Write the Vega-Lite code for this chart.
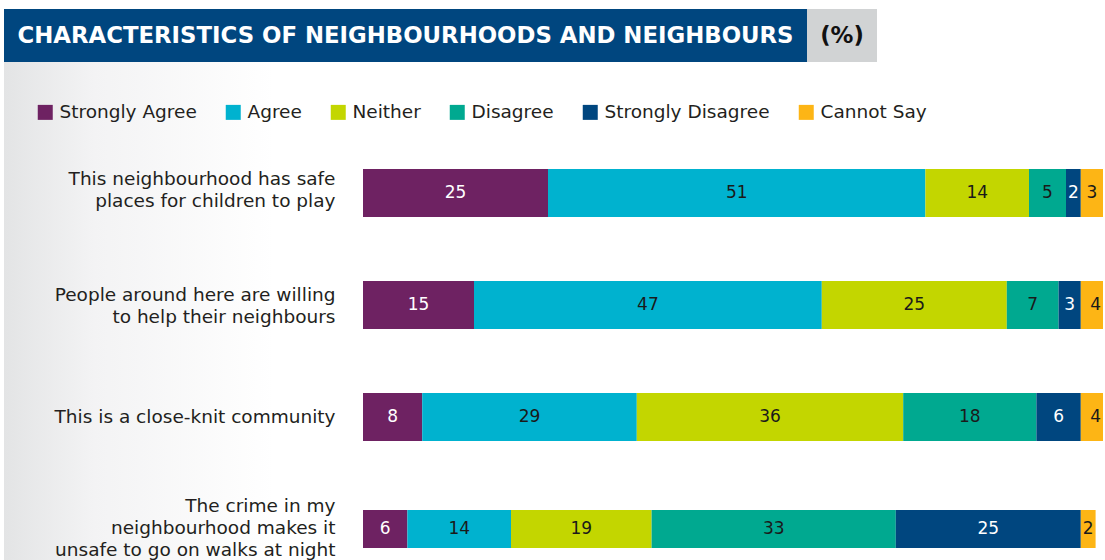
{
  "$schema": "https://vega.github.io/schema/vega-lite/v6.json",
  "padding": {"left": 4, "top": 9, "right": 0, "bottom": 0},
  "background": "white",
  "bounds": "flush",
  "spacing": 53,
  "config": {"view": {"stroke": null}, "font": "DejaVu Sans"},
  "vconcat": [
    {
      "bounds": "flush",
      "spacing": 0,
      "hconcat": [
        {
          "width": 803, "height": 53,
          "view": {"fill": "#00467f", "stroke": null},
          "data": {"values": [{"t": "CHARACTERISTICS OF NEIGHBOURHOODS AND NEIGHBOURS"}]},
          "mark": {"type": "text", "color": "white", "fontSize": 22.8, "fontWeight": "bold", "font": "DejaVu Sans"},
          "encoding": {"text": {"field": "t"}}
        },
        {
          "width": 70, "height": 53,
          "view": {"fill": "#d1d3d4", "stroke": null},
          "data": {"values": [{"t": "(%)"}]},
          "mark": {"type": "text", "color": "#111111", "fontSize": 22.8, "fontWeight": "bold", "font": "DejaVu Sans"},
          "encoding": {"text": {"field": "t"}}
        }
      ]
    },
    {
      "bounds": "flush",
      "spacing": 0,
      "hconcat": [
        {
          "width": 359, "height": 498,
          "view": {"stroke": null, "fill": {"gradient": "linear", "x1": 0, "y1": 0, "x2": 1, "y2": 0, "stops": [{"offset": 0, "color": "#e3e4e5"}, {"offset": 0.25, "color": "#f3f3f4"}, {"offset": 0.75, "color": "#ffffff"}]}},
          "data": {"values": []},
          "mark": "text",
          "encoding": {}
        },
        {
          "width": 740, "height": 498,
          "data": {"values": [
            {"q": "This neighbourhood has safe|places for children to play", "cat": "Strongly Agree", "v": 25, "rank": 1},
            {"q": "This neighbourhood has safe|places for children to play", "cat": "Agree", "v": 51, "rank": 2},
            {"q": "This neighbourhood has safe|places for children to play", "cat": "Neither", "v": 14, "rank": 3},
            {"q": "This neighbourhood has safe|places for children to play", "cat": "Disagree", "v": 5, "rank": 4},
            {"q": "This neighbourhood has safe|places for children to play", "cat": "Strongly Disagree", "v": 2, "rank": 5},
            {"q": "This neighbourhood has safe|places for children to play", "cat": "Cannot Say", "v": 3, "rank": 6},
            {"q": "People around here are willing|to help their neighbours", "cat": "Strongly Agree", "v": 15, "rank": 1},
            {"q": "People around here are willing|to help their neighbours", "cat": "Agree", "v": 47, "rank": 2},
            {"q": "People around here are willing|to help their neighbours", "cat": "Neither", "v": 25, "rank": 3},
            {"q": "People around here are willing|to help their neighbours", "cat": "Disagree", "v": 7, "rank": 4},
            {"q": "People around here are willing|to help their neighbours", "cat": "Strongly Disagree", "v": 3, "rank": 5},
            {"q": "People around here are willing|to help their neighbours", "cat": "Cannot Say", "v": 4, "rank": 6},
            {"q": "This is a close-knit community", "cat": "Strongly Agree", "v": 8, "rank": 1},
            {"q": "This is a close-knit community", "cat": "Agree", "v": 29, "rank": 2},
            {"q": "This is a close-knit community", "cat": "Neither", "v": 36, "rank": 3},
            {"q": "This is a close-knit community", "cat": "Disagree", "v": 18, "rank": 4},
            {"q": "This is a close-knit community", "cat": "Strongly Disagree", "v": 6, "rank": 5},
            {"q": "This is a close-knit community", "cat": "Cannot Say", "v": 4, "rank": 6},
            {"q": "The crime in my|neighbourhood makes it|unsafe to go on walks at night", "cat": "Strongly Agree", "v": 6, "rank": 1},
            {"q": "The crime in my|neighbourhood makes it|unsafe to go on walks at night", "cat": "Agree", "v": 14, "rank": 2},
            {"q": "The crime in my|neighbourhood makes it|unsafe to go on walks at night", "cat": "Neither", "v": 19, "rank": 3},
            {"q": "The crime in my|neighbourhood makes it|unsafe to go on walks at night", "cat": "Disagree", "v": 33, "rank": 4},
            {"q": "The crime in my|neighbourhood makes it|unsafe to go on walks at night", "cat": "Strongly Disagree", "v": 25, "rank": 5},
            {"q": "The crime in my|neighbourhood makes it|unsafe to go on walks at night", "cat": "Cannot Say", "v": 2, "rank": 6}
          ]},
          "transform": [
            {"stack": "v", "groupby": ["q"], "sort": [{"field": "rank", "order": "ascending"}], "as": ["v0", "v1"]},
            {"calculate": "(datum.v0 + datum.v1) / 2", "as": "mid"}
          ],
          "encoding": {
            "y": {
              "field": "q", "type": "nominal", "sort": null, "title": null,
              "scale": {"paddingInner": 0.5714, "paddingOuter": 0.5089, "align": 0.9386},
              "axis": {
                "labelExpr": "split(datum.label, '|')",
                "labelFontSize": 18.5, "labelColor": "#231f20", "labelLineHeight": 22,
                "labelPadding": 28, "labelLimit": 0, "domain": false, "ticks": false,
                "labelFont": "DejaVu Sans",
                "labelOffset": {
                  "condition": [
                    {"test": "indexof(datum.value, 'crime') >= 0", "value": -23},
                    {"test": "indexof(datum.value, 'safe') >= 0", "value": -14},
                    {"test": "indexof(datum.value, 'willing') >= 0", "value": -10}
                  ],
                  "value": 0
                }
              }
            }
          },
          "layer": [
            {
              "mark": {"type": "bar", "clip": true},
              "encoding": {
                "x": {"field": "v0", "type": "quantitative", "scale": {"domain": [0, 100], "nice": false}, "axis": null},
                "x2": {"field": "v1"},
                "size": {"condition": {"test": "indexof(datum.q, 'crime') >= 0", "value": 38}, "value": 48},
                "color": {
                  "field": "cat", "type": "nominal",
                  "scale": {
                    "domain": ["Strongly Agree", "Agree", "Neither", "Disagree", "Strongly Disagree", "Cannot Say"],
                    "range": ["#6e2262", "#00b2cf", "#c3d600", "#00a990", "#00467f", "#fdb515"]
                  },
                  "legend": {
                    "title": null, "orient": "none", "direction": "horizontal",
                    "legendX": 32, "legendY": 94,
                    "symbolType": "square", "symbolSize": 225, "symbolStrokeWidth": 0, "symbolOpacity": 1,
                    "labelFontSize": 18.5, "labelColor": "#231f20", "labelFont": "DejaVu Sans",
                    "labelOffset": 5, "columnPadding": 27, "labelLimit": 0
                  }
                }
              }
            },
            {
              "mark": {"type": "text", "fontSize": 17, "font": "DejaVu Sans"},
              "encoding": {
                "x": {"field": "mid", "type": "quantitative"},
                "text": {"field": "v", "type": "quantitative"},
                "color": {
                  "condition": {"test": "datum.cat === 'Strongly Agree' || datum.cat === 'Strongly Disagree'", "value": "#ffffff"},
                  "value": "#1a1a1a"
                }
              }
            }
          ]
        }
      ]
    }
  ]
}
